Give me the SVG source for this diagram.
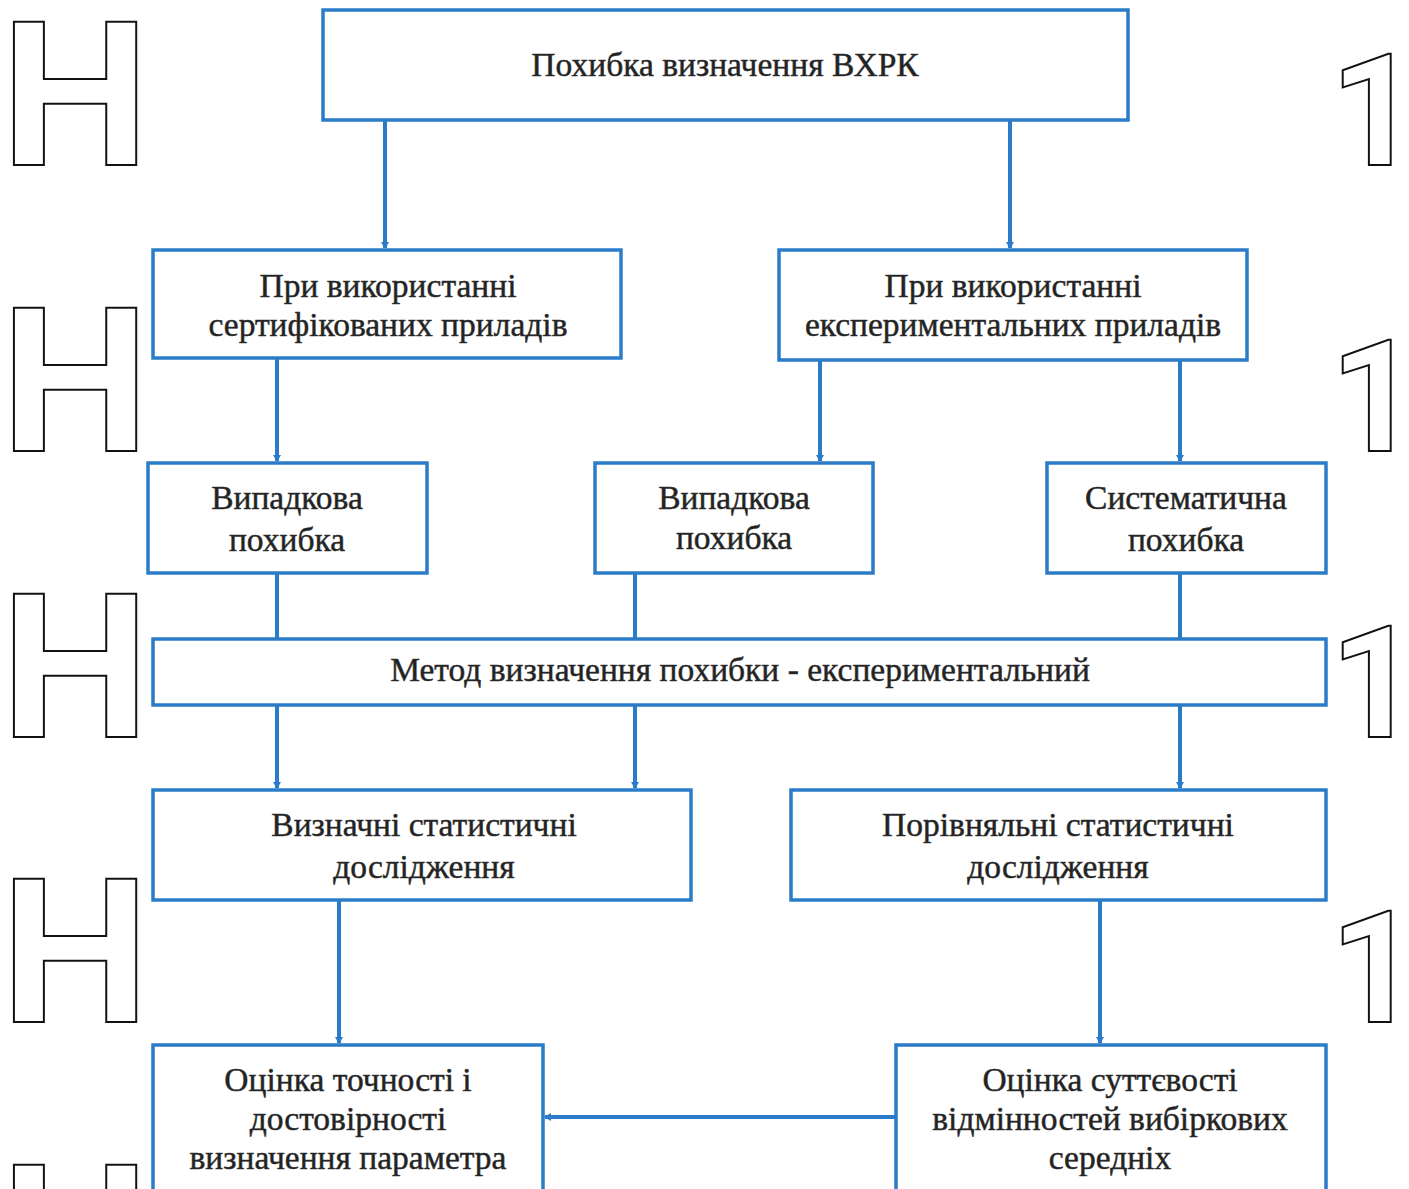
<svg xmlns="http://www.w3.org/2000/svg" width="1409" height="1189" viewBox="0 0 1409 1189">
<style>
.box{fill:#fff;stroke:#2a7cc9;stroke-width:3.5}
.t{font-family:"Liberation Serif","Times New Roman",serif;font-size:33.5px;fill:#222;stroke:#333;stroke-width:0.5;text-anchor:middle}
.c{stroke:#2a7cc9;stroke-width:4;fill:none}
.g{font-family:"Liberation Sans",Arial,sans-serif;font-weight:bold;fill:none;stroke:#111;stroke-width:2}
.o{font-family:Roboto,"Open Sans",sans-serif;font-weight:bold;fill:none;stroke:#111;stroke-width:2}
</style>
<defs>
<marker id="a" markerWidth="8" markerHeight="8" refX="6" refY="4" orient="auto" markerUnits="userSpaceOnUse">
<path d="M0,0 L7,4 L0,8 z" fill="#2a7cc9"/>
</marker>
</defs>
<rect width="1409" height="1189" fill="#fff"/>
<g id="margin-glyphs">
<text class="g" x="0" y="165" font-size="208">H</text>
<text class="g" x="0" y="451" font-size="208">H</text>
<text class="g" x="0" y="737" font-size="208">H</text>
<text class="g" x="0" y="1022" font-size="208">H</text>
<text class="g" x="0" y="1308" font-size="208">H</text>
<text class="o" x="1330" y="165" font-size="155">1</text>
<text class="o" x="1330" y="451" font-size="155">1</text>
<text class="o" x="1330" y="737" font-size="155">1</text>
<text class="o" x="1330" y="1022" font-size="155">1</text>
</g>
<g id="connectors">
<path class="c" d="M385,120 V248" marker-end="url(#a)"/>
<path class="c" d="M1010,120 V248" marker-end="url(#a)"/>
<path class="c" d="M277,358 V461" marker-end="url(#a)"/>
<path class="c" d="M820,360 V461" marker-end="url(#a)"/>
<path class="c" d="M1180,360 V461" marker-end="url(#a)"/>
<path class="c" d="M277,573 V639"/>
<path class="c" d="M635,573 V639"/>
<path class="c" d="M1180,573 V639"/>
<path class="c" d="M277,705 V788" marker-end="url(#a)"/>
<path class="c" d="M635,705 V788" marker-end="url(#a)"/>
<path class="c" d="M1180,705 V788" marker-end="url(#a)"/>
<path class="c" d="M339,900 V1043" marker-end="url(#a)"/>
<path class="c" d="M1100,900 V1043" marker-end="url(#a)"/>
<path class="c" d="M896,1117 H545" marker-end="url(#a)"/>
</g>
<g id="n1"><rect class="box" x="323" y="10" width="805" height="110"/><text class="t" x="725" y="76">Похибка визначення ВХРК</text></g>
<g id="n2"><rect class="box" x="153" y="250" width="468" height="108"/><text class="t" x="388" y="297">При використанні</text><text class="t" x="388" y="336">сертифікованих приладів</text></g>
<g id="n3"><rect class="box" x="779" y="250" width="468" height="110"/><text class="t" x="1013" y="297">При використанні</text><text class="t" x="1013" y="336">експериментальних приладів</text></g>
<g id="n4"><rect class="box" x="148" y="463" width="279" height="110"/><text class="t" x="287" y="509">Випадкова</text><text class="t" x="287" y="551">похибка</text></g>
<g id="n5"><rect class="box" x="595" y="463" width="278" height="110"/><text class="t" x="734" y="509">Випадкова</text><text class="t" x="734" y="549">похибка</text></g>
<g id="n6"><rect class="box" x="1047" y="463" width="279" height="110"/><text class="t" x="1186" y="509">Систематична</text><text class="t" x="1186" y="551">похибка</text></g>
<g id="n7"><rect class="box" x="153" y="639" width="1173" height="66"/><text class="t" x="740" y="681">Метод визначення похибки - експериментальний</text></g>
<g id="n8"><rect class="box" x="153" y="790" width="538" height="110"/><text class="t" x="424" y="836">Визначні статистичні</text><text class="t" x="424" y="878">дослідження</text></g>
<g id="n9"><rect class="box" x="791" y="790" width="535" height="110"/><text class="t" x="1058" y="836">Порівняльні статистичні</text><text class="t" x="1058" y="878">дослідження</text></g>
<g id="n10"><rect class="box" x="153" y="1045" width="390" height="160"/><text class="t" x="348" y="1091">Оцінка точності і</text><text class="t" x="348" y="1130">достовірності</text><text class="t" x="348" y="1169">визначення параметра</text></g>
<g id="n11"><rect class="box" x="896" y="1045" width="430" height="160"/><text class="t" x="1110" y="1091">Оцінка суттєвості</text><text class="t" x="1110" y="1130">відмінностей вибіркових</text><text class="t" x="1110" y="1169">середніх</text></g>
</svg>
